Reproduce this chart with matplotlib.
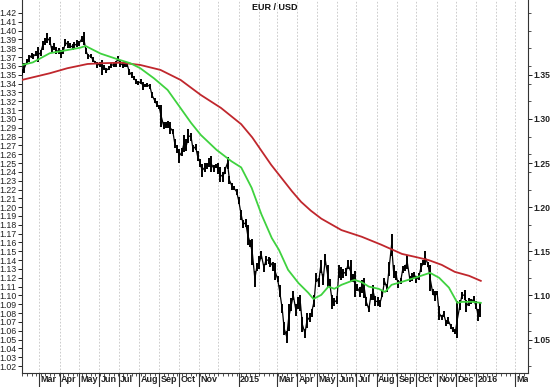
import matplotlib
matplotlib.use('Agg')
import matplotlib.pyplot as plt
import matplotlib.dates as mdates
from matplotlib.ticker import FixedLocator, FuncFormatter, NullFormatter
from matplotlib.transforms import ScaledTranslation, Bbox, TransformedBbox, blended_transform_factory
import numpy as np
import pandas as pd

plt.rcParams['font.family'] = ['Liberation Sans', 'DejaVu Sans']

# ---------------- data ----------------
# twice-weekly bars (Monday, Thursday) : low / high
low = [
    # 2014
    1.350, 1.352, 1.362, 1.365, 1.369, 1.368, 1.371, 1.365,
    1.371, 1.378, 1.384, 1.386, 1.384, 1.375, 1.378, 1.373, 1.374, 1.369,
    1.373, 1.383, 1.380, 1.380, 1.378, 1.380, 1.381, 1.383,
    1.387, 1.384, 1.373, 1.368, 1.369, 1.364, 1.362, 1.358,
    1.359, 1.350, 1.355, 1.352, 1.355, 1.358, 1.359, 1.359, 1.366, 1.359,
    1.358, 1.359, 1.359, 1.350, 1.346, 1.344, 1.340, 1.338,
    1.340, 1.333, 1.336, 1.336, 1.334, 1.324, 1.318, 1.314,
    1.311, 1.291, 1.288, 1.290, 1.290, 1.283, 1.283, 1.267, 1.261, 1.250,
    1.258, 1.262, 1.264, 1.273, 1.275, 1.262, 1.265, 1.252,
    1.246, 1.234, 1.240, 1.243, 1.245, 1.240, 1.240, 1.244,
    1.237, 1.228, 1.229, 1.238, 1.243, 1.226, 1.220, 1.219, 1.214, 1.204,
    # 2015
    1.186, 1.176, 1.178, 1.157, 1.155, 1.134, 1.110, 1.128,
    1.130, 1.141, 1.127, 1.135, 1.136, 1.132, 1.128, 1.118,
    1.115, 1.098, 1.080, 1.055, 1.046, 1.060, 1.082, 1.095, 1.077, 1.085,
    1.082, 1.059, 1.052, 1.063, 1.070, 1.075, 1.087, 1.115,
    1.110, 1.125, 1.112, 1.135, 1.110, 1.108, 1.085, 1.088,
    1.090, 1.120, 1.118, 1.120, 1.122, 1.130, 1.115, 1.115, 1.098, 1.105,
    1.098, 1.103, 1.097, 1.088, 1.081, 1.095, 1.095, 1.088,
    1.088, 1.087, 1.098, 1.112, 1.104, 1.122, 1.145, 1.120, 1.118, 1.108,
    1.113, 1.125, 1.128, 1.130, 1.115, 1.116, 1.120, 1.114,
    1.118, 1.126, 1.134, 1.135, 1.132, 1.105, 1.100, 1.094,
    1.100, 1.072, 1.072, 1.076, 1.065, 1.068, 1.062, 1.058, 1.056, 1.052,
    1.083, 1.096, 1.095, 1.081, 1.088, 1.090, 1.092, 1.085,
    # 2016
    1.071, 1.076,
]
high = [
    # 2014
    1.356, 1.363, 1.368, 1.372, 1.375, 1.374, 1.377, 1.381,
    1.378, 1.388, 1.392, 1.397, 1.393, 1.383, 1.386, 1.381, 1.380, 1.378,
    1.381, 1.390, 1.388, 1.386, 1.385, 1.387, 1.389, 1.388,
    1.394, 1.399, 1.380, 1.374, 1.374, 1.370, 1.366, 1.364,
    1.365, 1.367, 1.361, 1.358, 1.360, 1.363, 1.364, 1.366, 1.371, 1.367,
    1.364, 1.365, 1.364, 1.357, 1.353, 1.349, 1.345, 1.343,
    1.345, 1.342, 1.340, 1.341, 1.339, 1.330, 1.324, 1.320,
    1.316, 1.316, 1.296, 1.297, 1.298, 1.297, 1.289, 1.277, 1.270, 1.266,
    1.267, 1.282, 1.277, 1.289, 1.284, 1.270, 1.272, 1.264,
    1.254, 1.249, 1.250, 1.250, 1.256, 1.258, 1.248, 1.249,
    1.250, 1.245, 1.240, 1.246, 1.257, 1.235, 1.227, 1.224, 1.221, 1.212,
    # 2015
    1.197, 1.185, 1.187, 1.180, 1.163, 1.164, 1.128, 1.137,
    1.145, 1.150, 1.136, 1.145, 1.144, 1.142, 1.138, 1.137,
    1.122, 1.112, 1.090, 1.070, 1.060, 1.090, 1.097, 1.105, 1.090, 1.098,
    1.100, 1.075, 1.062, 1.080, 1.080, 1.085, 1.100, 1.125,
    1.120, 1.140, 1.124, 1.147, 1.135, 1.119, 1.100, 1.097,
    1.099, 1.135, 1.132, 1.130, 1.131, 1.140, 1.140, 1.124, 1.128, 1.113,
    1.110, 1.118, 1.120, 1.098, 1.088, 1.102, 1.112, 1.099,
    1.098, 1.095, 1.105, 1.120, 1.113, 1.138, 1.170, 1.135, 1.128, 1.118,
    1.120, 1.133, 1.135, 1.146, 1.122, 1.125, 1.127, 1.122,
    1.125, 1.137, 1.140, 1.150, 1.138, 1.135, 1.107, 1.105,
    1.105, 1.088, 1.078, 1.082, 1.072, 1.075, 1.068, 1.064, 1.062, 1.094,
    1.095, 1.104, 1.106, 1.095, 1.097, 1.096, 1.099, 1.094,
    # 2016
    1.085, 1.093,
]

# moving averages
ma_short_dates = ['2014-02-02', '2014-02-19', '2014-03-17', '2014-04-13', '2014-05-03',
                  '2014-05-11', '2014-06-03', '2014-06-29', '2014-07-19', '2014-08-03',
                  '2014-08-24', '2014-09-14', '2014-10-04', '2014-10-20', '2014-11-04',
                  '2014-11-28', '2014-12-21', '2015-01-05', '2015-01-21', '2015-02-05',
                  '2015-02-21', '2015-03-04', '2015-03-18', '2015-04-03', '2015-04-18',
                  '2015-04-26', '2015-05-08', '2015-05-19', '2015-05-28', '2015-06-08',
                  '2015-06-28', '2015-07-09', '2015-07-20', '2015-08-04', '2015-08-14',
                  '2015-08-24', '2015-09-09', '2015-09-29', '2015-10-22', '2015-11-05',
                  '2015-11-20', '2015-12-03', '2015-12-10', '2015-12-26', '2016-01-08']
ma_short = [1.361, 1.364, 1.3744, 1.378, 1.3807,
            1.3826, 1.374, 1.3676, 1.363, 1.3574,
            1.346, 1.3328, 1.3121, 1.2955, 1.2818,
            1.265, 1.252, 1.245, 1.222, 1.192,
            1.165, 1.1516, 1.129, 1.114, 1.103,
            1.096, 1.1006, 1.110, 1.1075, 1.112,
            1.1176, 1.115, 1.110, 1.1075, 1.104,
            1.112, 1.1154, 1.120, 1.1256, 1.120,
            1.1089, 1.0916, 1.0927, 1.0927, 1.0916]

ma_long_dates = ['2014-02-02', '2014-03-17', '2014-04-13', '2014-05-14', '2014-06-03',
                 '2014-07-04', '2014-08-03', '2014-09-03', '2014-10-04', '2014-11-04',
                 '2014-12-05', '2015-01-05', '2015-01-22', '2015-02-05', '2015-02-20',
                 '2015-03-08', '2015-03-24', '2015-04-07', '2015-04-22',
                 '2015-05-08', '2015-06-08', '2015-07-09', '2015-08-08', '2015-09-09',
                 '2015-09-29', '2015-10-20', '2015-11-09', '2015-11-29', '2015-12-21',
                 '2016-01-08']
ma_long = [1.3441, 1.3517, 1.3574, 1.3622, 1.3630,
           1.3637, 1.3611, 1.3555, 1.3441, 1.3271,
           1.3124, 1.2940, 1.2790, 1.2640, 1.2480,
           1.2330, 1.2180, 1.2060, 1.1960,
           1.1870, 1.1740, 1.1665, 1.1575, 1.1470,
           1.1437, 1.1400, 1.1346, 1.1267, 1.1222,
           1.1165]

left_ticks = [round(1.02 + 0.01 * i, 2) for i in range(41)]
right_ticks = [1.05, 1.10, 1.15, 1.20, 1.25, 1.30, 1.35]
right_minor_ticks = [round(1.02 + 0.02 * i, 2) for i in range(21)]
month_labels = ['Mar', 'Apr', 'May', 'Jun', 'Jul', 'Aug', 'Sep', 'Oct', 'Nov', '2015',
                'Mar', 'Apr', 'May', 'Jun', 'Jul', 'Aug', 'Sep', 'Oct', 'Nov', 'Dec',
                '2016', 'Mar']
month_label_dates = ['2014-03-01', '2014-04-01', '2014-05-01', '2014-06-01', '2014-07-01',
                     '2014-08-01', '2014-09-01', '2014-10-01', '2014-11-01', '2015-01-01',
                     '2015-03-01', '2015-04-01', '2015-05-01', '2015-06-01', '2015-07-01',
                     '2015-08-01', '2015-09-01', '2015-10-01', '2015-11-01', '2015-12-01',
                     '2016-01-01', '2016-03-01']
title = 'EUR / USD'

# ---------------- figure ----------------
W, H = 550, 387
fig = plt.figure(figsize=(W / 100, H / 100), dpi=100)
ax = fig.add_axes([22 / W, 14 / H, 506 / W, 373 / H])

mondays = pd.date_range('2014-02-03', '2016-01-04', freq='W-MON')
thursdays = mondays + pd.Timedelta(days=3)
bar_dates = pd.DatetimeIndex(np.sort(np.concatenate([mondays.values, thursdays.values])))
n = min(len(bar_dates), len(low), len(high))
bar_dates = bar_dates[:n]
lo = np.array(low[:n]); hi = np.array(high[:n])

xmin = pd.Timestamp('2014-02-02 09:00')
xmax = pd.Timestamp('2016-03-20 12:00')

# month grid
for m in pd.date_range('2014-02-01', '2016-03-01', freq='MS'):
    ax.axvline(m, color='#c4c4c4', lw=0.6, ls=(0, (2.0, 2.0)), zorder=0)

# price bars
ax.vlines(bar_dates, lo, hi, color='black', lw=1.4, zorder=3)
ax.plot(bar_dates, (lo + hi) / 2, color='black', lw=0.9, zorder=3)

# moving averages
ax.plot(pd.to_datetime(ma_long_dates), ma_long, color='#c0272d', lw=1.3, zorder=4)
ax.plot(pd.to_datetime(ma_short_dates), ma_short, color='#3fd23f', lw=1.3, zorder=5)

ax.set_xlim(xmin, xmax)
ax.set_ylim(1.0121, 1.4347)

# left axis
ax.yaxis.set_major_locator(FixedLocator(left_ticks))
ax.yaxis.set_major_formatter(FuncFormatter(lambda v, p: f'{v:.2f}'))
ax.tick_params(axis='y', which='major', length=3, width=0.7, pad=1.2, labelsize=6.3, colors='#222222')
for s in ['top', 'right']:
    ax.spines[s].set_visible(False)
for s in ['left', 'bottom']:
    ax.spines[s].set_linewidth(0.8)
    ax.spines[s].set_color('#333333')

# x axis ticks
ax.xaxis.set_major_locator(FixedLocator(mdates.date2num(pd.to_datetime(month_label_dates))))
ax.xaxis.set_minor_locator(mdates.WeekdayLocator(byweekday=mdates.MO))
ax.xaxis.set_major_formatter(NullFormatter())
ax.tick_params(axis='x', which='major', length=10, width=0.8, color='#333333')
ax.tick_params(axis='x', which='minor', length=2.5, width=0.6, color='#333333')

trans = blended_transform_factory(ax.transData, ax.transAxes) + \
    ScaledTranslation(1.5 / 100, -2.5 / 100, fig.dpi_scale_trans)
clip = TransformedBbox(Bbox([[0, 0], [528 / W, 1]]), fig.transFigure)
for lab, d in zip(month_labels, month_label_dates):
    t = ax.text(mdates.date2num(pd.Timestamp(d)), 0, lab, transform=trans, ha='left', va='top',
                fontsize=6.5, fontweight='bold', color='#222222', clip_on=True)
    t.set_clip_box(clip)

# right axis
ax2 = ax.twinx()
ax2.set_ylim(ax.get_ylim())
ax2.set_position(ax.get_position())
ax2.yaxis.set_major_locator(FixedLocator(right_ticks))
ax2.yaxis.set_minor_locator(FixedLocator([v for v in right_minor_ticks if v not in right_ticks]))
ax2.yaxis.set_major_formatter(FuncFormatter(lambda v, p: f'{v:.2f}'))
ax2.tick_params(axis='y', which='major', length=3, width=0.7, pad=1.0, labelsize=6.2, colors='#222222')
ax2.tick_params(axis='y', which='minor', length=2.2, width=0.6, color='#333333')
for lbl in ax2.get_yticklabels():
    lbl.set_fontweight('bold')
for s in ['top', 'left', 'bottom']:
    ax2.spines[s].set_visible(False)
ax2.spines['right'].set_linewidth(0.8)
ax2.spines['right'].set_color('#333333')

ax.text(0.5, 0.992, title, transform=ax.transAxes, ha='center', va='top',
        fontsize=6.5, fontweight='bold', color='#111111')

fig.savefig('out.png', dpi=100)
